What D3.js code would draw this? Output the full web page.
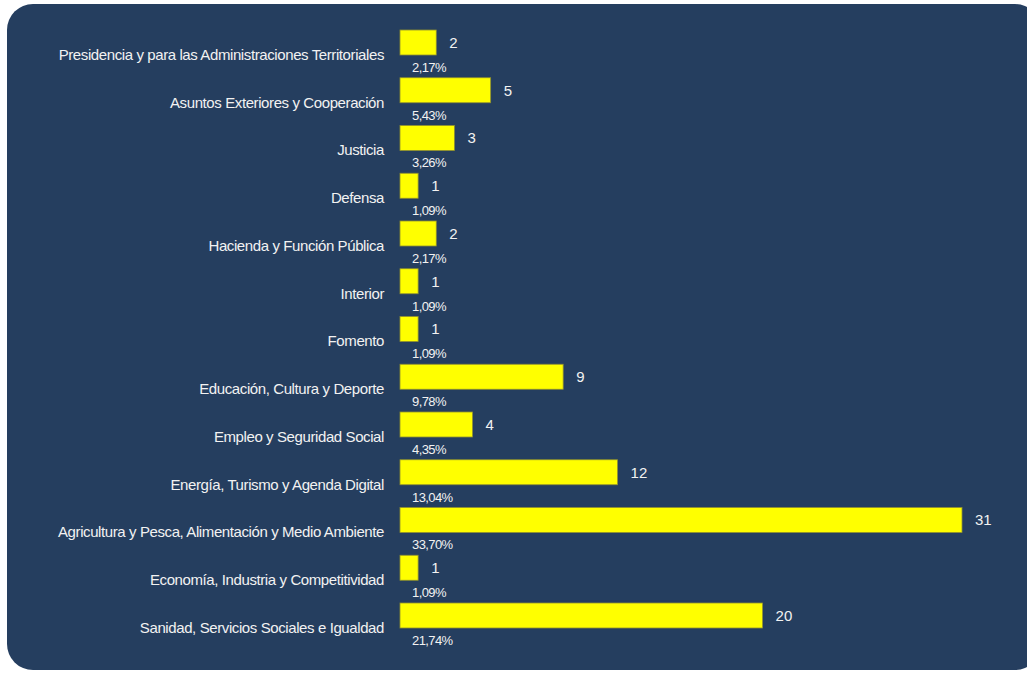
<!DOCTYPE html>
<html>
<head>
<meta charset="utf-8">
<script src="https://cdn.jsdelivr.net/npm/d3@7"></script>
<style>
  html, body { margin: 0; padding: 0; background: #fff; }
  svg { display: block; }
</style>
</head>
<body>
<svg id="chart"></svg>
<script>
const categories = [
  'Presidencia y para las Administraciones Territoriales',
  'Asuntos Exteriores y Cooperación',
  'Justicia',
  'Defensa',
  'Hacienda y Función Pública',
  'Interior',
  'Fomento',
  'Educación, Cultura y Deporte',
  'Empleo y Seguridad Social',
  'Energía, Turismo y Agenda Digital',
  'Agricultura y Pesca, Alimentación y Medio Ambiente',
  'Economía, Industria y Competitividad',
  'Sanidad, Servicios Sociales e Igualdad',
];
const values = [2, 5, 3, 1, 2, 1, 1, 9, 4, 12, 31, 1, 20];
const percents = ['2,17%', '5,43%', '3,26%', '1,09%', '2,17%', '1,09%', '1,09%',
  '9,78%', '4,35%', '13,04%', '33,70%', '1,09%', '21,74%'];

const width = 1027;
const height = 673;
const rows = categories.map((c, i) => ({ cat: c, value: values[i], pct: percents[i] }));

const svg = d3.select('#chart')
  .attr('width', width)
  .attr('height', height);

// panel
svg.append('rect')
  .attr('x', 7)
  .attr('y', 4)
  .attr('width', 1034)
  .attr('height', 666)
  .attr('rx', 26)
  .attr('fill', '#253e5f');

const x = d3.scaleLinear()
  .domain([0, 31])
  .range([400, 962]);

const y = d3.scaleBand()
  .domain(categories)
  .range([30, 628])
  .paddingInner(0.4764)
  .paddingOuter(0);

const g = svg.append('g')
  .attr('font-family', '"Liberation Sans", Arial, sans-serif')
  .attr('fill', '#f2f2f2');

const row = g.selectAll('.row')
  .data(rows)
  .enter()
  .append('g')
  .attr('class', 'row');

row.append('rect')
  .attr('x', x(0))
  .attr('y', d => y(d.cat))
  .attr('width', d => x(d.value) - x(0))
  .attr('height', y.bandwidth())
  .attr('fill', '#ffff00')
  .attr('stroke', '#8f8f30')
  .attr('stroke-width', 0.8);

row.append('text')
  .attr('x', x(0) - 16)
  .attr('y', d => y(d.cat) + 30)
  .attr('text-anchor', 'end')
  .attr('font-size', 15)
  .attr('letter-spacing', -0.4)
  .text(d => d.cat);

row.append('text')
  .attr('x', d => x(d.value) + 13)
  .attr('y', d => y(d.cat) + 18)
  .attr('font-size', 15)
  .text(d => d.value);

row.append('text')
  .attr('x', x(0) + 12)
  .attr('y', d => y(d.cat) + 42)
  .attr('font-size', 13)
  .attr('letter-spacing', -0.6)
  .text(d => d.pct);
</script>
</body>
</html>
